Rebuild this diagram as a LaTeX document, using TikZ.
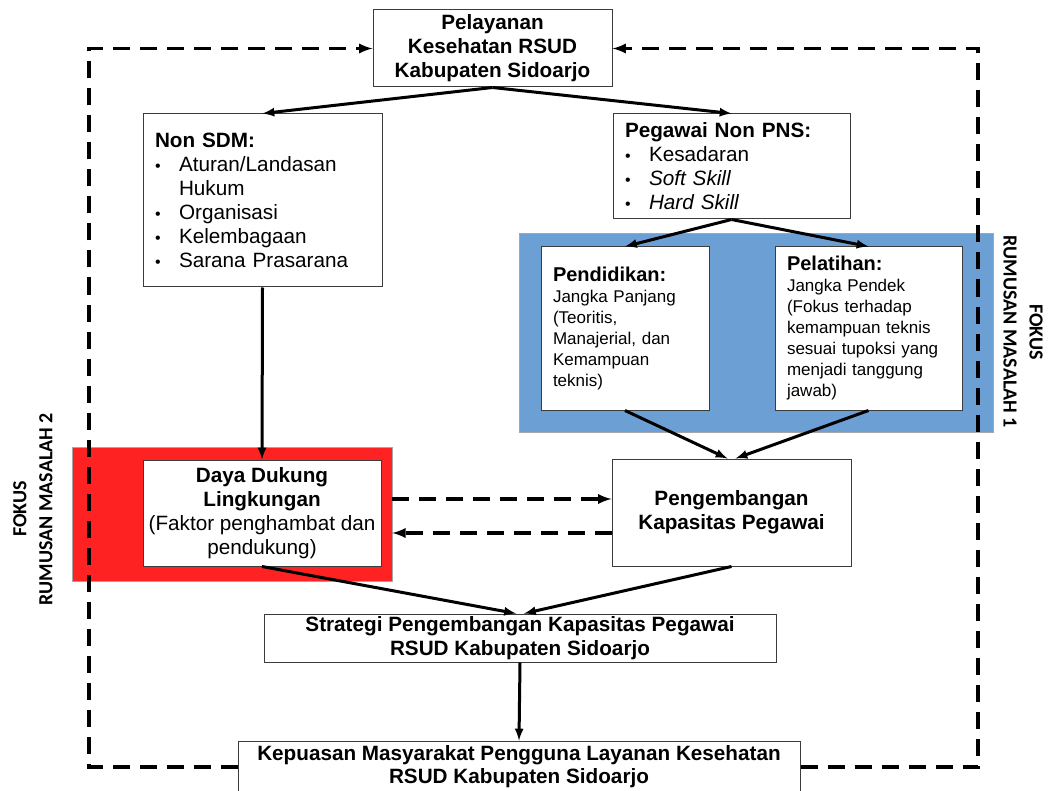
\documentclass[tikz,border=0pt]{standalone}
\usepackage{fontspec}
\setmainfont{Liberation Sans}
\newfontfamily\fokusfont{Carlito}
\definecolor{biru}{RGB}{108,160,212}
\definecolor{merah}{RGB}{255,34,34}
\definecolor{garis}{RGB}{60,60,60}
\newcommand{\butir}{\makebox[24pt][l]{\raisebox{0.5pt}{\fontsize{16}{16}\selectfont\textbullet}}}
\newcommand{\gantung}{\hspace*{24pt}}
\begin{document}
\begin{tikzpicture}[
		x=1pt, y=-1pt,
		kotak/.style={draw=garis, line width=1pt, fill=white, inner sep=0pt, font=\fontsize{20.7}{24}\selectfont},
		judul/.style={kotak, align=center, font=\bfseries\fontsize{20.7}{24}\selectfont},
		daftar/.style={kotak, align=left, inner xsep=12pt},
		kecil/.style={daftar, font=\fontsize{17}{21}\selectfont},
		latar/.style={draw=gray!70, line width=0.6pt, inner sep=0pt},
		panah/.style={-latex, line width=3pt},
		putus/.style={-latex, line width=3.5pt, dash pattern=on 17pt off 10pt},
		fokus/.style={font=\fokusfont\bfseries\fontsize{20}{26}\selectfont, align=center}
	]
	\useasboundingbox (0,0) rectangle (1048,791);
	% Latar fokus
	\node[latar, fill=biru, minimum width=474pt, minimum height=199pt] (fokussatu) at (756,332.5) {};
	\node[latar, fill=merah, minimum width=320pt, minimum height=134pt] (fokusdua) at (232,514) {};
	\node[fokus, rotate=-90] (labelsatu) at (1023,332) {FOKUS\\RUMUSAN MASALAH 1};
	\node[fokus, rotate=90] (labeldua) at (33,509) {FOKUS\\RUMUSAN MASALAH 2};
	% Kotak utama
	\node[judul, minimum width=239pt, minimum height=77pt] (pelayanan) at (492.5,48.5)
		{Pelayanan\\Kesehatan RSUD\\Kabupaten Sidoarjo};
	\node[daftar, text width=215pt, minimum height=173pt] (nonsdm) at (262.5,200.5)
		{\textbf{Non SDM:}\\
		\butir Aturan/Landasan\\ \gantung Hukum\\
		\butir Organisasi\\
		\butir Kelembagaan\\
		\butir Sarana Prasarana};
	\node[daftar, text width=213pt, minimum height=105pt] (pegawai) at (731.5,166.5)
		{\textbf{Pegawai Non PNS:}\\
		\butir Kesadaran\\
		\butir \textit{Soft Skill}\\
		\butir \textit{Hard Skill}};
	\node[kecil, text width=144pt, minimum height=163pt] (pendidikan) at (625,328.5)
		{{\bfseries\fontsize{20}{21}\selectfont Pendidikan:}\\
		Jangka Panjang\\(Teoritis,\\Manajerial, dan\\Kemampuan\\teknis)};
	\node[kecil, text width=163pt, minimum height=163pt] (pelatihan) at (868.5,328.5)
		{{\bfseries\fontsize{20}{21}\selectfont Pelatihan:}\\
		Jangka Pendek\\(Fokus terhadap\\kemampuan teknis\\sesuai tupoksi yang\\menjadi tanggung\\jawab)};
	\node[kotak, align=center, minimum width=238pt, minimum height=106pt] (daya) at (262,513)
		{\textbf{Daya Dukung}\\\textbf{Lingkungan}\\(Faktor penghambat dan\\pendukung)};
	\node[judul, minimum width=239pt, minimum height=107pt] (pengembangan) at (731.5,512.5)
		{Pengembangan\\Kapasitas Pegawai};
	\node[judul, minimum width=512pt, minimum height=48pt] (strategi) at (520,638)
		{Strategi Pengembangan Kapasitas Pegawai\\RSUD Kabupaten Sidoarjo};
	\node[judul, minimum width=562pt, minimum height=52pt, font=\bfseries\fontsize{20.7}{23}\selectfont] (kepuasan) at (519,767)
		{Kepuasan Masyarakat Pengguna Layanan Kesehatan\\RSUD Kabupaten Sidoarjo};
	% Panah
	\draw[panah] (pelayanan.south) -- (nonsdm.north);
	\draw[panah] (pelayanan.south) -- (pegawai.north);
	\draw[panah] (pegawai.south) -- (pendidikan.north);
	\draw[panah] (pegawai.south) -- (pelatihan.north);
	\draw[panah] (pendidikan.south) -- ([xshift=-4pt]pengembangan.north);
	\draw[panah] (pelatihan.south) -- ([xshift=4pt]pengembangan.north);
	\draw[panah] (nonsdm.south) -- (daya.north);
	\draw[panah] (daya.south) -- ([xshift=-4pt]strategi.north);
	\draw[panah] (pengembangan.south) -- ([xshift=4pt]strategi.north);
	\draw[panah] (strategi.south) -- (kepuasan.north);
	% Panah putus-putus
	\coordinate (kiribawah) at (89,767);
	\coordinate (kiriatas) at (89,48.5);
	\coordinate (kananbawah) at (978,767);
	\coordinate (kananatas) at (978,48.5);
	\draw[putus] (kepuasan.west |- kiribawah) -- (kiribawah) -- (kiriatas) -- (pelayanan.west);
	\draw[putus] (kepuasan.east |- kananbawah) -- (kananbawah) -- (kananatas) -- (pelayanan.east);
	\coordinate (dayaatas) at ([yshift=15pt]fokusdua.east);
	\coordinate (dayabawah) at ([yshift=-19pt]fokusdua.east);
	\draw[putus] (dayaatas) -- (dayaatas -| pengembangan.west);
	\draw[putus] (dayabawah -| pengembangan.west) -- (dayabawah);
\end{tikzpicture}
\end{document}
